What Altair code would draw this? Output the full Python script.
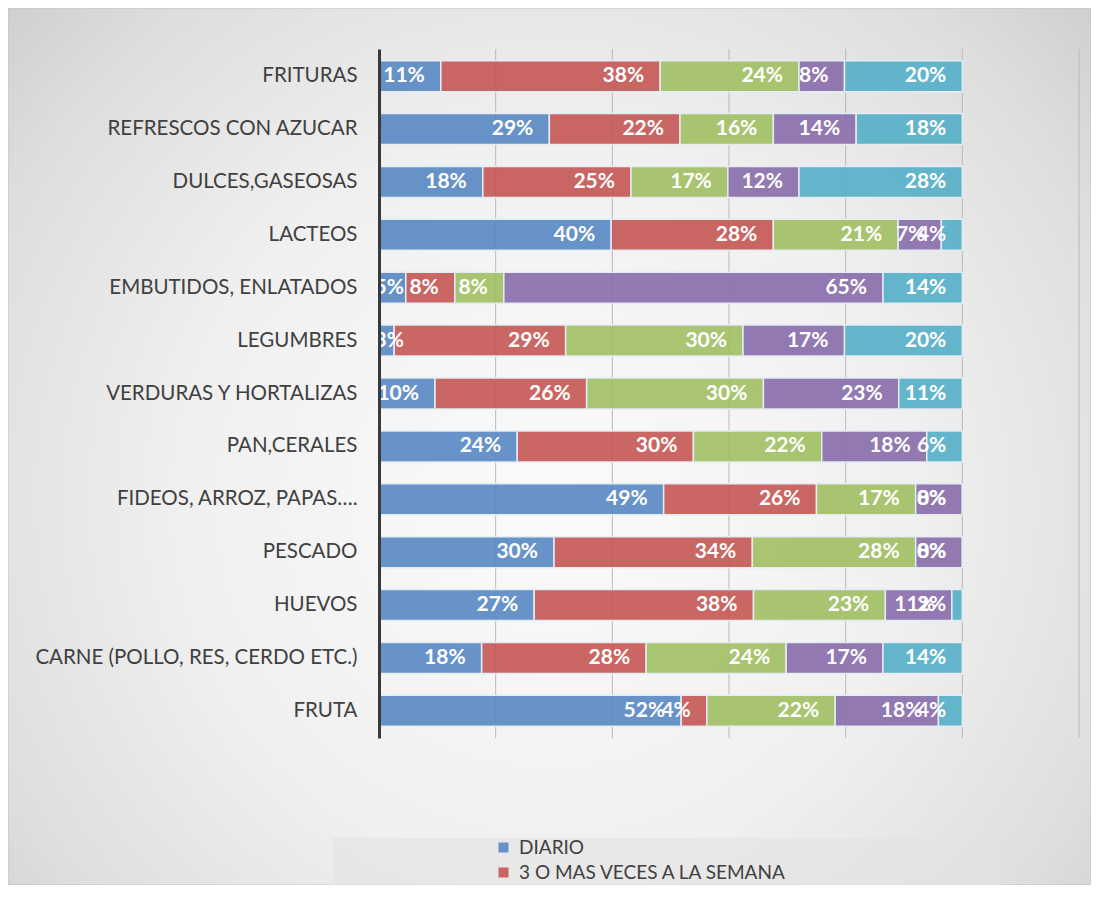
import altair as alt
import pandas as pd

categories = ["FRITURAS", "REFRESCOS CON AZUCAR", "DULCES,GASEOSAS", "LACTEOS",
              "EMBUTIDOS, ENLATADOS", "LEGUMBRES", "VERDURAS Y HORTALIZAS",
              "PAN,CERALES", "FIDEOS, ARROZ, PAPAS….", "PESCADO", "HUEVOS",
              "CARNE (POLLO, RES, CERDO ETC.)", "FRUTA"]
series = ["DIARIO", "3 O MAS VECES A LA SEMANA", "1 O 2 VECES A LA SEMANA",
          "RARA VEZ", "NUNCA"]
diario = [0.106, 0.292, 0.178, 0.398, 0.046, 0.026, 0.096, 0.237, 0.488, 0.30, 0.266, 0.176, 0.518]
tres_o_mas = [0.376, 0.224, 0.254, 0.278, 0.084, 0.294, 0.26, 0.302, 0.262, 0.34, 0.376, 0.282, 0.044]
una_dos = [0.238, 0.16, 0.166, 0.214, 0.084, 0.304, 0.303, 0.22, 0.17, 0.28, 0.226, 0.24, 0.22]
rara_vez = [0.078, 0.142, 0.122, 0.074, 0.65, 0.174, 0.232, 0.18, 0.08, 0.08, 0.114, 0.166, 0.177]
nunca = [0.202, 0.182, 0.28, 0.036, 0.136, 0.202, 0.109, 0.061, 0.0, 0.0, 0.018, 0.136, 0.041]
colors = ["#5b8ac4", "#c65a57", "#a2c065", "#8a6fab", "#56b0c8"]
x_ticks = [0.2, 0.4, 0.6, 0.8, 1.0, 1.2]

rows = []
for si, (name, vals) in enumerate(zip(series, [diario, tres_o_mas, una_dos, rara_vez, nunca])):
    for c, v in zip(categories, vals):
        rows.append({"cat": c, "serie": name, "ord": si, "value": v})
df = pd.DataFrame(rows)
grid_df = pd.DataFrame({"t": x_ticks})

W, H = 700, 689
PAD_L, PAD_T = 371, 41
TOTAL_W, TOTAL_H = 1083, 877

xscale = alt.Scale(domain=[0, 1.2], nice=False, zero=True)

base = alt.Chart(df).transform_stack(
    stack="value", groupby=["cat"], as_=["start", "end"],
    sort=[alt.SortField("ord", order="ascending")]
)

yenc = alt.Y("cat:N", sort=categories, title=None,
             scale=alt.Scale(paddingInner=0.414, paddingOuter=0.22),
             axis=alt.Axis(domain=True, domainColor="#3a3a3a", domainWidth=3,
                           ticks=False, labelFont="Lato", labelFontSize=20.5,
                           labelColor="#404040", labelPadding=22, labelLimit=400,
                           grid=False, zindex=2))

grid = alt.Chart(grid_df).mark_rule(color="#b9b9b9", strokeWidth=1).encode(
    x=alt.X("t:Q", scale=xscale, axis=None),
    y=alt.value(0), y2=alt.value(H),
)

bars = base.mark_bar(stroke="#e4ecf4", strokeWidth=1.5, fillOpacity=0.92).encode(
    x=alt.X("start:Q", scale=xscale, title=None, axis=None),
    x2="end:Q",
    y=yenc,
    color=alt.Color("serie:N", scale=alt.Scale(domain=series, range=colors),
                    legend=alt.Legend(values=series[:2], title=None, orient="none",
                                      legendX=115, legendY=789, direction="vertical",
                                      symbolType="square", symbolSize=100,
                                      symbolStrokeWidth=0, symbolOpacity=0.92,
                                      labelFont="Lato", labelFontSize=19,
                                      labelColor="#404040", labelOffset=6,
                                      rowPadding=5, padding=0, labelLimit=500)),
)

text = base.transform_calculate(
    label="format(datum.value, '.0%')"
).transform_calculate(
    labx="max(datum.end, (length(datum.label) * 12.5 + 16) / 583.33)"
).mark_text(align="right", baseline="middle", dx=-16, font="Lato",
            fontSize=21, fontWeight="bold", color="white").encode(
    x=alt.X("labx:Q", scale=xscale),
    y=alt.Y("cat:N", sort=categories),
    text="label:N",
)

bg = alt.Chart(alt.Data(values=[{"a": 1}])).mark_rect(
    color=alt.Gradient(gradient="radial", x1=0.5, y1=0.55, r1=0, x2=0.5, y2=0.55, r2=0.75,
                       stops=[alt.GradientStop(offset=0, color="#fbfbfb"),
                              alt.GradientStop(offset=0.45, color="#f0f0f0"),
                              alt.GradientStop(offset=0.75, color="#dedede"),
                              alt.GradientStop(offset=1, color="#c6c6c6")]),
    stroke="#c4c4c4", strokeWidth=1,
).encode(
    x=alt.value(-PAD_L), x2=alt.value(TOTAL_W - PAD_L),
    y=alt.value(-PAD_T), y2=alt.value(TOTAL_H - PAD_T),
)

legbox = alt.Chart(alt.Data(values=[{"a": 1}])).mark_rect(
    color="#e2e2e2", opacity=0.6
).encode(
    x=alt.value(-46), x2=alt.value(621),
    y=alt.value(789), y2=alt.value(TOTAL_H - PAD_T),
)

chart = alt.layer(bg, legbox, grid, bars, text).properties(
    width=W, height=H,
    autosize=alt.AutoSizeParams(type="none"),
    padding={"left": PAD_L, "top": PAD_T, "right": TOTAL_W - PAD_L - W,
             "bottom": TOTAL_H - PAD_T - H},
    background="white",
).configure_view(stroke="transparent")

chart.save("out.html", embed_options={"renderer": "svg", "actions": False})
